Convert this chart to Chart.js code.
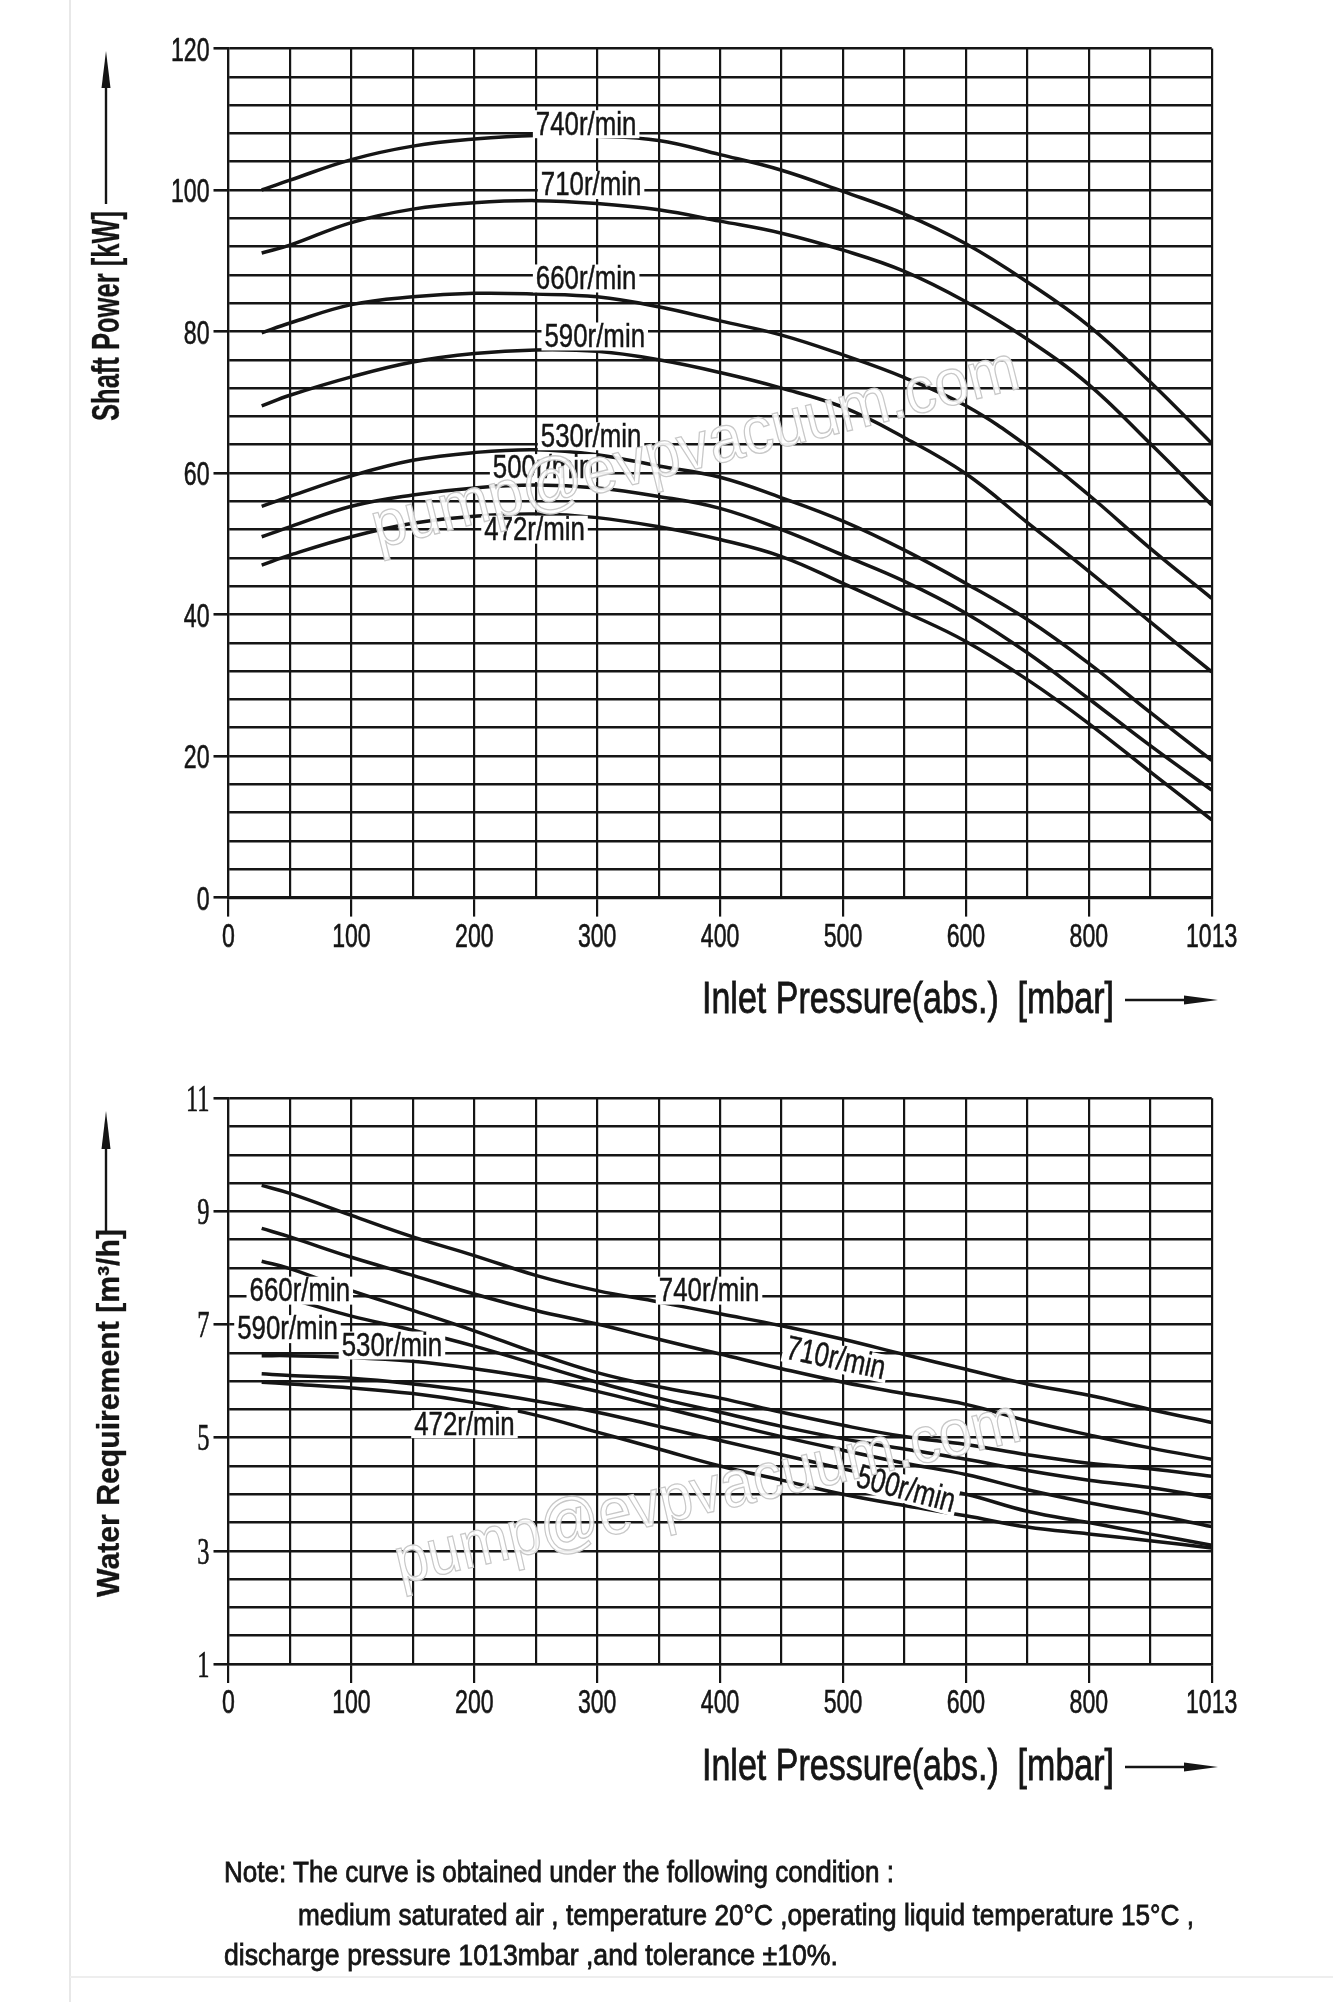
<!DOCTYPE html>
<html>
<head>
<meta charset="utf-8">
<script src="https://cdn.jsdelivr.net/npm/chart.js@4.4.1/dist/chart.umd.min.js"></script>
<style>
  html, body { margin: 0; padding: 0; background: #fff; }
  body { width: 1333px; height: 2002px; position: relative; overflow: hidden; }
  canvas { position: absolute; left: 0; }
  #powerChart { top: 0; }
  #waterChart { top: 1000px; }
  #overlay { position: absolute; left: 0; top: 0; pointer-events: none; }
</style>
</head>
<body>
<canvas id="powerChart" width="1333" height="960"></canvas>
<canvas id="waterChart" width="1333" height="730"></canvas>

<svg id="overlay" width="1333" height="2002" xmlns="http://www.w3.org/2000/svg">
  <line x1="70" y1="0" x2="70" y2="2002" stroke="#e8e8e8" stroke-width="2"/>
  <line x1="70" y1="1977" x2="1333" y2="1977" stroke="#eeeeee" stroke-width="2"/>

  <!-- watermarks -->
  <g font-family="Liberation Sans, Arial, sans-serif" font-size="66" fill="#fff" fill-opacity="0.93" stroke="#c8c8c8" stroke-width="1.3" text-anchor="middle">
    <text transform="translate(700,468) rotate(-14)" textLength="665" lengthAdjust="spacingAndGlyphs">pump@evpvacuum.com</text>
    <text transform="translate(712,1512) rotate(-13)" textLength="640" lengthAdjust="spacingAndGlyphs">pump@evpvacuum.com</text>
  </g>

  <g fill="#151515" stroke="#151515" font-family="Liberation Sans, Arial, sans-serif">
    <!-- y titles -->
    <text transform="translate(119,421) rotate(-90)" font-size="38" font-weight="bold" stroke-width="0.3" textLength="210" lengthAdjust="spacingAndGlyphs">Shaft Power [kW]</text>
    <text transform="translate(119,1597) rotate(-90)" font-size="31" font-weight="bold" stroke-width="0.3" textLength="368" lengthAdjust="spacingAndGlyphs">Water Requirement [m³/h]</text>
    <!-- x titles -->
    <text x="702" y="1013" font-size="44" stroke-width="0.8" textLength="412" lengthAdjust="spacingAndGlyphs">Inlet Pressure(abs.)&#160;&#160;[mbar]</text>
    <text x="702" y="1780" font-size="44" stroke-width="0.8" textLength="412" lengthAdjust="spacingAndGlyphs">Inlet Pressure(abs.)&#160;&#160;[mbar]</text>
    <!-- note -->
    <g font-size="30" stroke-width="0.8">
      <text x="224" y="1882" textLength="670" lengthAdjust="spacingAndGlyphs">Note: The curve is obtained under the following condition :</text>
      <text x="298" y="1925" textLength="896" lengthAdjust="spacingAndGlyphs">medium saturated air , temperature 20°C ,operating liquid temperature 15°C ,</text>
      <text x="224" y="1965" textLength="614" lengthAdjust="spacingAndGlyphs">discharge pressure 1013mbar ,and tolerance ±10%.</text>
    </g>
  </g>

  <!-- arrows -->
  <g stroke="#151515" stroke-width="2.4" fill="#151515">
    <line x1="106" y1="204" x2="106" y2="70"/>
    <polygon points="106,51 101.5,88 110.5,88" stroke="none"/>
    <line x1="106" y1="1232" x2="106" y2="1130"/>
    <polygon points="106,1111 101.5,1149 110.5,1149" stroke="none"/>
    <line x1="1125" y1="1000" x2="1200" y2="1000"/>
    <polygon points="1218,1000 1184,995.5 1184,1004.5" stroke="none"/>
    <line x1="1125" y1="1767" x2="1200" y2="1767"/>
    <polygon points="1218,1767 1184,1762.5 1184,1771.5" stroke="none"/>
  </g>
</svg>

<script>
// inlet pressure (mbar) where the curves were read
const pressure = [27, 50, 100, 150, 200, 250, 300, 350, 400, 450, 500, 550, 600, 700, 800, 906, 1013];
const speeds = ['740r/min', '710r/min', '660r/min', '590r/min', '530r/min', '500r/min', '472r/min'];

// shaft power [kW]
const power740 = [100.0, 101.4, 104.3, 106.2, 107.2, 107.7, 107.6, 107.0, 105.0, 102.8, 99.8, 96.6, 92.4, 87.0, 80.8, 72.9, 64.2];
const power710 = [91.1, 92.2, 95.4, 97.3, 98.2, 98.5, 98.1, 97.2, 95.6, 93.9, 91.5, 88.5, 84.2, 78.9, 72.5, 64.2, 55.5];
const power660 = [79.8, 81.2, 83.8, 84.9, 85.4, 85.3, 84.9, 83.5, 81.5, 79.5, 76.7, 73.5, 69.5, 63.8, 56.9, 49.4, 42.3];
const power590 = [69.5, 71.0, 73.6, 75.7, 76.9, 77.4, 77.2, 76.0, 74.2, 72.0, 69.3, 65.0, 59.9, 53.0, 46.1, 39.0, 31.9];
const power530 = [55.3, 56.7, 59.6, 61.8, 62.9, 63.3, 62.6, 61.0, 59.4, 56.5, 53.2, 49.1, 44.4, 39.3, 33.1, 26.2, 19.4];
const power500 = [51.0, 52.4, 55.3, 56.9, 57.9, 58.3, 57.9, 56.7, 55.0, 52.0, 48.4, 44.7, 40.2, 34.6, 28.1, 21.5, 15.2];
const power472 = [47.0, 48.4, 51.0, 52.9, 53.9, 54.2, 53.7, 52.4, 50.6, 48.2, 44.4, 40.4, 36.2, 30.8, 24.6, 17.8, 11.0];

// water requirement [m3/h]
const water740 = [9.46, 9.32, 8.93, 8.55, 8.22, 7.87, 7.60, 7.40, 7.19, 6.98, 6.74, 6.47, 6.21, 5.95, 5.75, 5.50, 5.27];
const water710 = [8.70, 8.55, 8.19, 7.87, 7.54, 7.25, 7.01, 6.74, 6.48, 6.22, 5.98, 5.78, 5.59, 5.30, 5.05, 4.82, 4.62];
const water660 = [8.12, 7.99, 7.60, 7.25, 6.89, 6.50, 6.15, 5.90, 5.70, 5.45, 5.22, 5.02, 4.88, 4.70, 4.55, 4.45, 4.32];
const water590 = [7.55, 7.45, 7.15, 6.90, 6.62, 6.30, 5.98, 5.70, 5.45, 5.20, 4.98, 4.80, 4.62, 4.42, 4.25, 4.12, 3.94];
const water530 = [6.45, 6.45, 6.42, 6.35, 6.22, 6.05, 5.82, 5.55, 5.28, 5.02, 4.78, 4.55, 4.35, 4.08, 3.85, 3.65, 3.43];
const water500 = [6.13, 6.10, 6.05, 5.95, 5.82, 5.65, 5.45, 5.20, 4.95, 4.70, 4.45, 4.20, 4.00, 3.70, 3.50, 3.30, 3.10];
const water472 = [5.98, 5.95, 5.88, 5.78, 5.62, 5.40, 5.10, 4.80, 4.50, 4.25, 4.00, 3.80, 3.62, 3.42, 3.30, 3.18, 3.05];

// axis: grid lines and labelled ticks
const xGrid = [0, 50, 100, 150, 200, 250, 300, 350, 400, 450, 500, 550, 600, 700, 800, 906.5, 1013];
const xLabelled = [0, 100, 200, 300, 400, 500, 600, 800, 1013];
// the pressure axis is not linear: 0-600 in 12 columns, 600-800 in 2, 800-1013 in 2
const xBreaks = [0, 600, 800, 1013];
const xColumns = [12, 2, 2];

// where the speed labels sit (data units)
const powerLabels = [
  { text: '740r/min', x: 291, y: 109.3 },
  { text: '710r/min', x: 295, y: 100.7 },
  { text: '660r/min', x: 291, y: 87.5 },
  { text: '590r/min', x: 298, y: 79.3 },
  { text: '530r/min', x: 295, y: 65.2 },
  { text: '500r/min', x: 256, y: 60.7 },
  { text: '472r/min', x: 249, y: 52.0 }
];
const waterLabels = [
  { text: '660r/min', x: 58, y: 7.60 },
  { text: '590r/min', x: 48, y: 6.92 },
  { text: '530r/min', x: 133, y: 6.63 },
  { text: '472r/min', x: 192, y: 5.24 },
  { text: '740r/min', x: 391, y: 7.60 },
  { text: '710r/min', x: 494, y: 6.40, angle: 12 },
  { text: '500r/min', x: 551, y: 4.09, angle: 15 }
];

const INK = '#151515';
const CLEAR = 'rgba(0,0,0,0)';

function piecePos(v) {
    const total = xColumns.reduce((a, b) => a + b, 0);
    let cols = 0;
    for (let i = 0; i < xColumns.length; i++) {
        const a = xBreaks[i], b = xBreaks[i + 1];
        if (v <= b || i === xColumns.length - 1) {
            return (cols + (v - a) / (b - a) * xColumns[i]) / total;
        }
        cols += xColumns[i];
    }
}
function pieceValue(d) {
    const total = xColumns.reduce((a, b) => a + b, 0);
    let c = d * total, cols = 0;
    for (let i = 0; i < xColumns.length; i++) {
        if (c <= cols + xColumns[i] || i === xColumns.length - 1) {
            return xBreaks[i] + (c - cols) / xColumns[i] * (xBreaks[i + 1] - xBreaks[i]);
        }
        cols += xColumns[i];
    }
}

class PiecewiseScale extends Chart.LinearScale {
    getPixelForValue(value) {
        if (value === null || value === undefined) return NaN;
        return this.getPixelForDecimal(piecePos(value));
    }
    getValueForPixel(pixel) {
        return pieceValue(this.getDecimalForPixel(pixel));
    }
}
PiecewiseScale.id = 'piecewise';
PiecewiseScale.defaults = Chart.LinearScale.defaults;
Chart.register(PiecewiseScale);

// draw text squeezed sideways, like the narrow face of the drawing
function squeezed(ctx, text, x, y, k, angle) {
    ctx.save();
    ctx.translate(x, y);
    if (angle) ctx.rotate(angle * Math.PI / 180);
    ctx.scale(k, 1);
    ctx.fillText(text, 0, 0);
    ctx.strokeText(text, 0, 0);
    ctx.restore();
}

// speed labels on a white box
const speedLabels = {
    id: 'speedLabels',
    afterDatasetsDraw(chart, args, opts) {
        const { ctx, scales: { x, y } } = chart;
        ctx.save();
        ctx.font = '34px "Liberation Sans", Arial, sans-serif';
        ctx.textAlign = 'center';
        ctx.textBaseline = 'middle';
        ctx.lineWidth = 0.5;
        opts.items.forEach(it => {
            const px = x.getPixelForValue(it.x);
            const py = y.getPixelForValue(it.y);
            const w = ctx.measureText(it.text).width * 0.76;
            ctx.save();
            ctx.translate(px, py);
            ctx.rotate((it.angle || 0) * Math.PI / 180);
            ctx.fillStyle = '#fff';
            ctx.fillRect(-w / 2 - 3, -14, w + 6, 28);
            ctx.restore();
            ctx.fillStyle = INK;
            ctx.strokeStyle = INK;
            squeezed(ctx, it.text, px, py + 1, 0.76, it.angle);
        });
        ctx.restore();
    }
};

// tick numbers: the axes place them, this draws them narrow
const narrowTicks = {
    id: 'narrowTicks',
    afterDraw(chart, args, opts) {
        const { ctx, chartArea, scales: { x, y } } = chart;
        ctx.save();
        ctx.fillStyle = INK;
        ctx.strokeStyle = INK;
        ctx.lineWidth = 0.6;
        ctx.textBaseline = 'middle';
        ctx.font = '33px "Liberation Sans", Arial, sans-serif';
        ctx.textAlign = 'center';
        x.ticks.forEach((t, i) => {
            if (t.label) squeezed(ctx, t.label, x.getPixelForTick(i), chartArea.bottom + 40, 0.7);
        });
        ctx.font = opts.yFont;
        ctx.textAlign = 'right';
        y.ticks.forEach((t, i) => {
            if (t.label) squeezed(ctx, t.label, chartArea.left - 19, y.getPixelForTick(i) + 3, opts.yScale);
        });
        ctx.restore();
    }
};

function makeDatasets(series) {
    return series.map((vals, i) => ({
        label: speeds[i],
        data: pressure.map((p, j) => ({ x: p, y: vals[j] })),
        borderColor: INK,
        borderWidth: 3.5,
        pointRadius: 0,
        tension: 0.4,
        fill: false
    }));
}

function xAxis(height) {
    return {
        type: 'piecewise',
        min: 0,
        max: 1013,
        afterBuildTicks: s => { s.ticks = xGrid.map(v => ({ value: v })); },
        afterFit: s => { s.height = height; },
        ticks: {
            autoSkip: false,
            maxRotation: 0,
            color: CLEAR,
            font: { size: 30 },
            callback: v => xLabelled.includes(v) ? String(v) : ''
        },
        grid: {
            color: INK,
            lineWidth: 2.2,
            tickLength: 19,
            tickColor: c => (c.tick && xLabelled.includes(c.tick.value)) ? INK : CLEAR
        },
        border: { color: INK, width: 2.2 }
    };
}

function yAxis(min, max, step, isLabelled) {
    return {
        min: min,
        max: max,
        afterFit: s => { s.width = 228.5; },
        ticks: {
            stepSize: step,
            autoSkip: false,
            maxTicksLimit: 100,
            color: CLEAR,
            font: { size: 30 },
            callback: v => isLabelled(v) ? String(v) : ''
        },
        grid: {
            color: INK,
            lineWidth: 2.6,
            tickLength: 15,
            tickColor: c => (c.tick && isLabelled(c.tick.value)) ? INK : CLEAR
        },
        border: { color: INK, width: 2.2 }
    };
}

function baseOptions(padTop, padRight) {
    return {
        responsive: false,
        animation: false,
        layout: { padding: { left: 0, right: padRight, top: padTop, bottom: 0 } },
        plugins: { legend: { display: false }, tooltip: { enabled: false } }
    };
}

const powerOpts = baseOptions(48.5, 121.3);
powerOpts.scales = {
    x: xAxis(960 - 897.6),
    y: yAxis(0, 120, 4, v => v % 20 === 0)
};
powerOpts.plugins.speedLabels = { items: powerLabels };
powerOpts.plugins.narrowTicks = { yFont: '33px "Liberation Sans", Arial, sans-serif', yScale: 0.7 };

new Chart(document.getElementById('powerChart'), {
    type: 'line',
    data: { datasets: makeDatasets([power740, power710, power660, power590, power530, power500, power472]) },
    options: powerOpts,
    plugins: [speedLabels, narrowTicks]
});

const waterOpts = baseOptions(98.3, 121.3);
waterOpts.scales = {
    x: xAxis(730 - 664),
    y: yAxis(1, 11, 0.5, v => Number.isInteger(v) && v % 2 === 1)
};
waterOpts.plugins.speedLabels = { items: waterLabels };
waterOpts.plugins.narrowTicks = { yFont: '37px "Liberation Serif", "Times New Roman", serif', yScale: 0.66 };

new Chart(document.getElementById('waterChart'), {
    type: 'line',
    data: { datasets: makeDatasets([water740, water710, water660, water590, water530, water500, water472]) },
    options: waterOpts,
    plugins: [speedLabels, narrowTicks]
});
</script>
</body>
</html>
